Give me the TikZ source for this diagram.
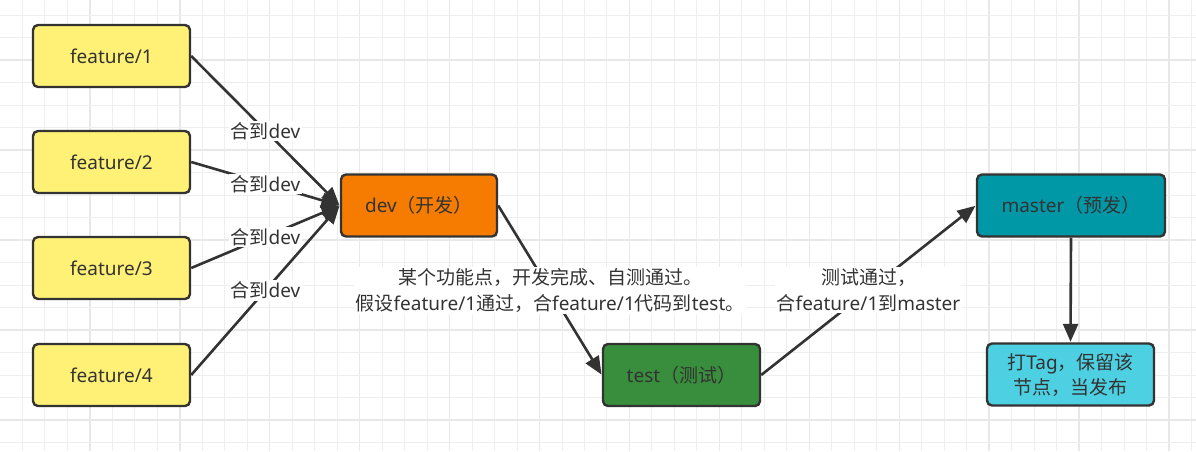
\documentclass[tikz,border=0pt]{standalone}
\usepackage{fontspec}
\setmainfont{Noto Sans}
\newfontfamily\cjk{Noto Sans CJK SC}
\usetikzlibrary{arrows.meta}
\definecolor{ink}{HTML}{333333}
\definecolor{fyellow}{HTML}{FFF176}
\definecolor{forange}{HTML}{F57C00}
\definecolor{fgreen}{HTML}{388E3C}
\definecolor{fteal}{HTML}{0097A7}
\definecolor{fcyan}{HTML}{4DD0E1}
\definecolor{gridminor}{HTML}{EEEEEE}
\definecolor{gridmajor}{HTML}{E8E8E8}
\tikzset{
  box/.style={draw=ink, line width=2.4pt, rounded corners=5pt, minimum height=62pt,
    text=ink, font=\fontsize{19}{26}\selectfont, align=center, inner sep=0pt},
  conn/.style={draw=ink, line width=2.6pt, -{Triangle[length=18pt,width=15pt]}, shorten >=0.5pt},
  lbl/.style={fill=white, text=ink, font=\fontsize{19}{26}\selectfont, align=center, inner sep=1.5pt}
}
\begin{document}
\begin{tikzpicture}[x=1pt,y=-1pt]
\useasboundingbox (0,0) rectangle (1196,451);
\fill[white] (0,0) rectangle (1196,451);
% grid
\foreach \i in {1,...,53} {
  \pgfmathtruncatemacro{\m}{mod(\i,4)}
  \ifnum\m=0
    \draw[gridmajor, line width=1.4pt] ({22.48*\i},0) -- ({22.48*\i},451);
  \else
    \draw[gridminor, line width=1pt] ({22.48*\i},0) -- ({22.48*\i},451);
  \fi
}
\foreach \j in {0,...,19} {
  \pgfmathtruncatemacro{\m}{mod(\j,4)}
  \ifnum\m=2
    \draw[gridmajor, line width=1.4pt] (0,{15+22.5*\j}) -- (1196,{15+22.5*\j});
  \else
    \draw[gridminor, line width=1pt] (0,{15+22.5*\j}) -- (1196,{15+22.5*\j});
  \fi
}
% nodes
\node[box, fill=fyellow, minimum width=157pt] (f1) at (111.5,56) {feature/1};
\node[box, fill=fyellow, minimum width=157pt] (f2) at (111.5,162) {feature/2};
\node[box, fill=fyellow, minimum width=157pt] (f3) at (111.5,268) {feature/3};
\node[box, fill=fyellow, minimum width=157pt] (f4) at (111.5,375) {feature/4};
\node[box, fill=forange, minimum width=156pt] (dev) at (419,205.5) {dev{\cjk（开发）}};
\node[box, fill=fgreen, minimum width=157pt] (test) at (681.5,375) {test{\cjk（测试）}};
\node[box, fill=fteal, minimum width=188pt] (master) at (1071,205.5) {master{\cjk（预发）}};
\node[box, fill=fcyan, minimum width=167pt] (tag) at (1070.5,374.5) {{\cjk 打}Tag{\cjk ，保留该}\\[-1pt]{\cjk 节点，当发布}};
% connectors
\draw[conn] (f1.east) -- node[lbl] {{\cjk 合到}dev} (dev.west);
\draw[conn] (f2.east) -- node[lbl] {{\cjk 合到}dev} (dev.west);
\draw[conn] (f3.east) -- node[lbl] {{\cjk 合到}dev} (dev.west);
\draw[conn] (f4.east) -- node[lbl] {{\cjk 合到}dev} (dev.west);
\draw[conn] (dev.east) -- node[lbl] {{\cjk 某个功能点，开发完成、自测通过。}\\{\cjk 假设}feature/1{\cjk 通过，合}feature/1{\cjk 代码到}test{\cjk 。}} (test.west);
\draw[conn] (test.east) -- node[lbl] {{\cjk 测试通过，}\\{\cjk 合}feature/1{\cjk 到}master} (master.west);
\draw[conn] (master.south) -- (tag.north);
\end{tikzpicture}
\end{document}
